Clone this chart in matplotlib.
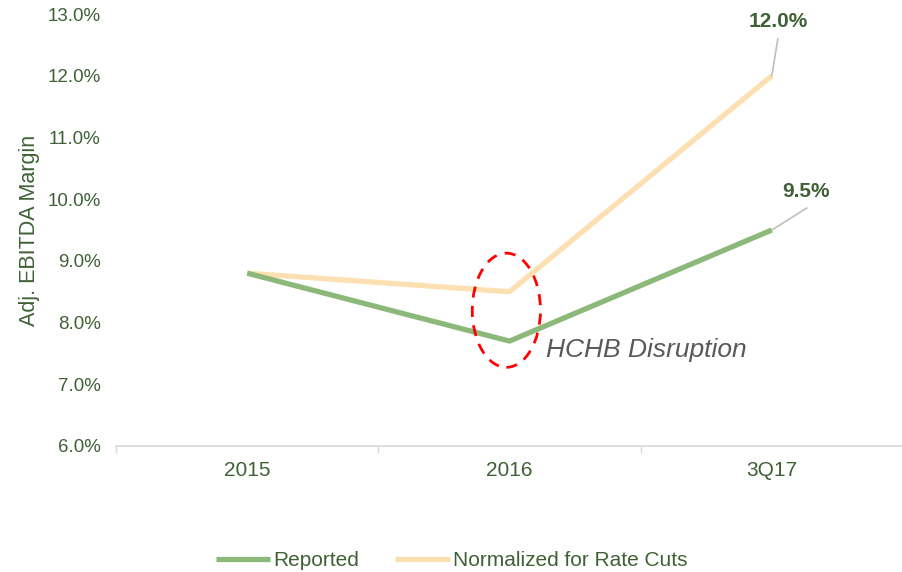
import numpy as np
import matplotlib.pyplot as plt
from matplotlib.patches import Ellipse

plt.rcParams['font.family'] = ['Liberation Sans', 'DejaVu Sans']

categories = ['2015', '2016', '3Q17']
reported = [8.8, 7.7, 9.5]
normalized = [8.8, 8.5, 12.0]

txt_green = '#3F6135'
green = '#8CB87A'
beige = '#FDE0B2'

fig = plt.figure(figsize=(9.03, 5.72), dpi=100)
ax = fig.add_axes([0.1285, 0.2203, 0.8715, 0.7552])

x = np.arange(len(categories))
ax.plot(x, reported, color=green, lw=3.8, solid_capstyle='butt', label='Reported', zorder=3)
ax.plot(x, normalized, color=beige, lw=3.8, solid_capstyle='butt', label='Normalized for Rate Cuts', zorder=2)

ax.set_xlim(-0.5, 2.5)
ax.set_ylim(6.0, 13.0)
ax.set_yticks(np.arange(6, 13.5, 1))
ax.set_yticklabels([f'{v:.1f}%' for v in np.arange(6, 13.5, 1)])
ax.set_xticks(x)
ax.set_xticklabels(categories)
ax.set_xticks([-0.5, 0.5, 1.5, 2.5], minor=True)
ax.tick_params(axis='x', which='major', length=0, pad=11, labelsize=15, labelcolor=txt_green)
ax.tick_params(axis='x', which='minor', length=5, color='#D9D9D9', width=1)
ax.tick_params(axis='y', length=0, pad=11, labelsize=13.5, labelcolor=txt_green)
for s in ['left', 'right', 'top']:
    ax.spines[s].set_visible(False)
ax.spines['bottom'].set_color('#D9D9D9')
ax.spines['bottom'].set_linewidth(1.2)
ax.set_ylabel('Adj. EBITDA Margin', fontsize=15.5, color=txt_green)
ax.yaxis.set_label_coords(-0.097, 0.5)

# data labels with gray leader lines (offsets in pixels)
labels = [(normalized[2], (6, 54), (6, 37)), (reported[2], (34, 39), (35, 22))]
for val, txt_off, line_off in labels:
    ax.annotate('', xy=(x[2], val), xytext=line_off, textcoords='offset pixels',
                arrowprops=dict(arrowstyle='-', color='#BFBFBF', lw=1.2, shrinkA=0, shrinkB=0))
    ax.annotate(f'{val:.1f}%', xy=(x[2], val), xytext=txt_off, textcoords='offset pixels',
                ha='center', va='center', fontsize=15, fontweight='bold', color=txt_green)

# disruption callout
ell = Ellipse((x[1] - 0.012, 8.2), 0.26, 1.85, fill=False, edgecolor='#FF0000', lw=2,
              linestyle=(0, (4, 3)), zorder=4)
ax.add_patch(ell)
ax.text(x[1] + 0.14, 7.56, 'HCHB Disruption', fontsize=19, style='italic',
        color='#595959', ha='left', va='center')

fig.legend(loc='lower center', bbox_to_anchor=(0.5, -0.03), ncol=2, frameon=False,
           fontsize=15, labelcolor=txt_green, handlelength=2.6, handletextpad=0.15,
           columnspacing=1.75)

fig.savefig('out.png', dpi=100)
